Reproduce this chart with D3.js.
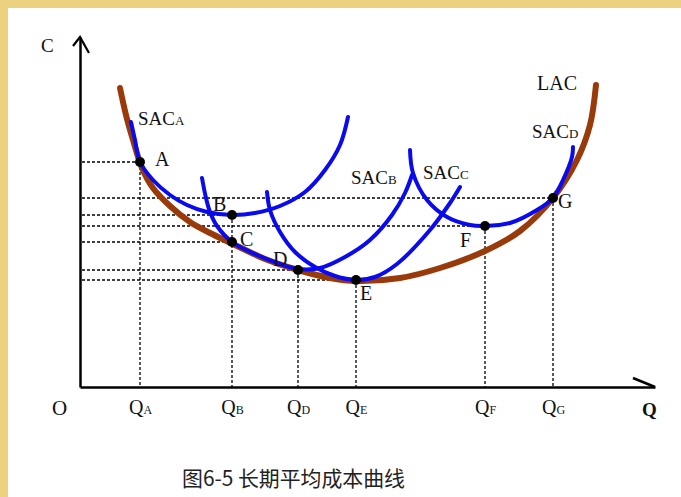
<!DOCTYPE html>
<html><head><meta charset="utf-8">
<script src="https://cdn.jsdelivr.net/npm/d3@7"></script>
<style>html,body{margin:0;padding:0;background:#fff;} svg{display:block}</style>
</head><body>
<svg id="chart" width="681" height="497"></svg>
<script>
// ---- data (Q units, C units) ----
const pointNames = ["A","B","C","D","E","F","G"];
const pointQ = [12, 30.4, 30.4, 43.6, 55.2, 81, 94.6];
const pointC = [45, 34.4, 29, 23.4, 21.4, 32.2, 37.8];

const qTickSubs = ["A","B","D","E","F","G"];
const qTickValues = [12, 30.4, 43.6, 55.2, 81, 94.6];

const lacQ = [8, 9.2, 10.6, 12.4, 14.6, 18, 22, 26, 30.2, 37, 43.6, 50, 55.2, 64, 72, 81, 88, 94.6, 99.4, 102, 103.2];
const lacC = [59.8, 54.4, 49.4, 43.8, 39.8, 36.2, 33, 30.8, 28.8, 25.6, 23.4, 21.8, 21.2, 21.8, 23.8, 27.2, 31.2, 37.8, 45.4, 52.4, 60.4];

const sacAQ = [10.2, 11, 12, 14.6, 18, 21.4, 25.4, 30.4, 35, 40, 45, 49, 52, 53.6];
const sacAC = [53, 49.4, 45, 41.4, 38.4, 36.4, 35, 34.4, 34.8, 36.2, 39, 43.4, 48.4, 54];

const sacBQ = [24.4, 25.2, 26, 27.4, 30.4, 35.4, 40, 43.6, 48, 53, 58, 62.4, 65, 66.4];
const sacBC = [41.8, 37.8, 35, 32.2, 29, 26.4, 24.6, 23.6, 23.8, 26, 29.4, 34.4, 38.8, 42.4];

const sacCQ = [37.4, 38, 40, 43, 47, 51, 55.2, 59, 63.4, 70, 74, 76];
const sacCC = [39, 35.4, 31, 27, 24, 22.2, 21.4, 22, 24.6, 31.4, 36.8, 40];

const sacDQ = [66, 66.6, 69.4, 73.4, 78, 81, 86, 91.4, 94.6, 96.6, 98.4, 98.6];
const sacDC = [47.4, 42.8, 37.4, 34, 32.4, 32.2, 32.8, 35.4, 37.8, 41.4, 46, 48];

const curveNames = ["SAC|A", "SAC|B", "SAC|C", "SAC|D"];
const titleText = "图6-5 长期平均成本曲线";

// ---- drawing ----
const svg = d3.select("#chart");
const W = 681, H = 497;
const x = d3.scaleLinear().domain([0, 115]).range([80, 655]);
const y = d3.scaleLinear().domain([0, 70]).range([387, 37]);
const serif = "'Liberation Serif','Times New Roman',serif";

svg.append("rect").attr("width", W).attr("height", H).attr("fill", "#ecd17e");
svg.append("rect").attr("x", 8).attr("y", 8).attr("width", W - 8).attr("height", H - 8).attr("fill", "#ffffff");

const zip = (qs, cs) => qs.map((q, i) => [q, cs[i]]);
const line = d3.line().x(d => x(d[0])).y(d => y(d[1])).curve(d3.curveCatmullRom.alpha(0.5));

// dashed guides (one vertical per distinct Q, from the highest point)
const guides = svg.append("g").attr("stroke", "#000").attr("stroke-width", 1.3).attr("stroke-dasharray", "3,2").attr("fill", "none");
pointQ.forEach((q, i) => {
  guides.append("line").attr("x1", x(0) + 2).attr("x2", x(q)).attr("y1", y(pointC[i])).attr("y2", y(pointC[i]));
  const topC = d3.max(pointC.filter((c, j) => pointQ[j] === q));
  if (pointC[i] === topC) {
    guides.append("line").attr("x1", x(q)).attr("x2", x(q)).attr("y1", y(pointC[i])).attr("y2", y(0));
  }
});

// LAC
svg.append("path").attr("d", line(zip(lacQ, lacC))).attr("fill", "none")
  .attr("stroke", "#993a0b").attr("stroke-width", 6).attr("stroke-linecap", "round");

// SAC curves
[[sacAQ, sacAC], [sacBQ, sacBC], [sacCQ, sacCC], [sacDQ, sacDC]].forEach(([qs, cs]) => {
  svg.append("path").attr("d", line(zip(qs, cs))).attr("fill", "none")
    .attr("stroke", "#0a0af0").attr("stroke-width", 4).attr("stroke-linecap", "round");
});

// dots
svg.append("g").selectAll("circle").data(pointQ).join("circle")
  .attr("cx", d => x(d)).attr("cy", (d, i) => y(pointC[i])).attr("r", 5).attr("fill", "#000");

// point labels
const ptOff = {A: [15, 4], B: [-19, -4], C: [8, 4], D: [-25, -4], E: [4, 20], F: [-25, 21], G: [5, 10]};
svg.append("g").selectAll("text").data(pointNames).join("text")
  .attr("x", (d, i) => x(pointQ[i]) + ptOff[d][0])
  .attr("y", (d, i) => y(pointC[i]) + ptOff[d][1])
  .attr("font-family", serif).attr("font-size", 20).attr("fill", "#111").text(d => d);

// SAC labels
const sacPos = [[138, 125], [351, 184], [423, 179], [532, 138]];
curveNames.forEach((n, i) => {
  const [main, sub] = n.split("|");
  const t = svg.append("text").attr("x", sacPos[i][0]).attr("y", sacPos[i][1])
    .attr("font-family", serif).attr("fill", "#111");
  t.append("tspan").attr("font-size", 19).text(main);
  t.append("tspan").attr("font-size", 13).text(sub);
});
svg.append("text").attr("x", 537).attr("y", 90).attr("font-family", serif)
  .attr("font-size", 20).attr("fill", "#111").text("LAC");

// axes
const xAxis = d3.axisBottom(x).tickValues(qTickValues).tickSize(0).tickSizeOuter(0).tickFormat("");
const gx = svg.append("g").attr("transform", `translate(0,${y(0)})`).call(xAxis);
gx.select(".domain").attr("stroke", "#000").attr("stroke-width", 2.5);
gx.selectAll(".tick text").each(function(d, i) {
  const t = d3.select(this).attr("y", 27).attr("dy", null).attr("font-family", serif)
    .attr("fill", "#111").attr("text-anchor", "middle").text(null);
  t.append("tspan").attr("font-size", 20).text("Q");
  t.append("tspan").attr("font-size", 12).text(qTickSubs[i]);
});

const yAxis = d3.axisLeft(y).tickValues([]).tickSizeOuter(0);
const gy = svg.append("g").attr("transform", `translate(${x(0)},0)`).call(yAxis);
gy.select(".domain").attr("stroke", "#000").attr("stroke-width", 2.5);

// arrows
svg.append("path").attr("d", `M${x(0) - 7},${y(70) + 9}L${x(0)},${y(70)}L${x(0) + 9},${y(70) + 16}`)
  .attr("fill", "none").attr("stroke", "#000").attr("stroke-width", 2.2);
svg.append("path").attr("d", `M${x(115) - 22},${y(0) - 9}L${x(115)},${y(0)}`)
  .attr("fill", "none").attr("stroke", "#000").attr("stroke-width", 2.5);

// axis names
svg.append("text").attr("x", 41).attr("y", 52).attr("font-family", serif).attr("font-size", 19).attr("fill", "#111").text("C");
svg.append("text").attr("x", 52).attr("y", 415).attr("font-family", serif).attr("font-size", 21).attr("fill", "#111").text("O");
svg.append("text").attr("x", 642).attr("y", 416).attr("font-family", serif).attr("font-size", 19).attr("font-weight", "bold").attr("fill", "#111").text("Q");

// title
svg.append("text").attr("x", 182).attr("y", 486).attr("font-family", "'Noto Sans CJK SC',sans-serif")
  .attr("font-size", 21).attr("fill", "#222").attr("textLength", 223).attr("lengthAdjust", "spacingAndGlyphs").text(titleText);
</script>
</body></html>
